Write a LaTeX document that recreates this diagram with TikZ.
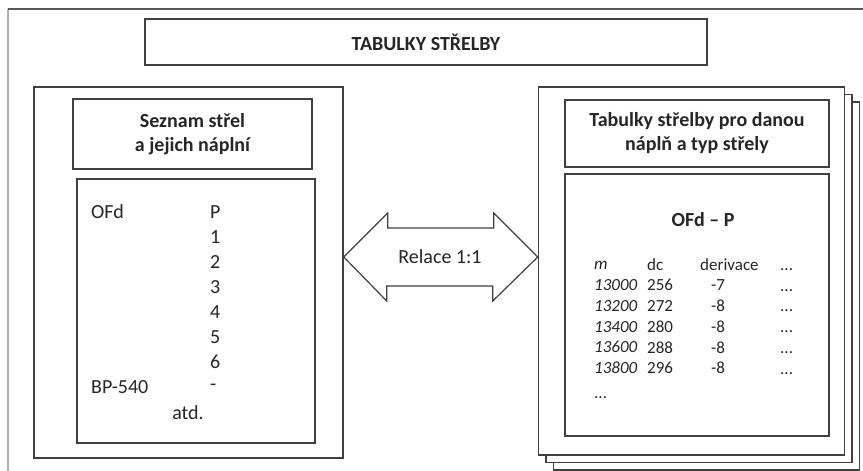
\documentclass[tikz,border=0pt]{standalone}
\usepackage{fontspec}
\setmainfont{Carlito}
\begin{document}
\begin{tikzpicture}[x=1pt, y=-1pt,
				    box/.style={draw=black!75, line width=1.5pt, fill=white,
				    			inner sep=0pt, text=black!85},
				    page/.style={box, minimum width=306pt, minimum height=368pt},
				    txt/.style={inner sep=0pt, text=black!85,
				    			font=\fontsize{20}{24}\selectfont},
				    tab/.style={inner sep=0pt, text=black!85, anchor=west,
				    			font=\fontsize{17}{20}\selectfont}]
	\useasboundingbox (0,0) rectangle (863,471);
	% outer frame
	\coordinate (fr) at (8,9);
	\draw[black!30, line width=2.5pt] (8,480) -- (fr);
	\draw[black!65, line width=1.5pt] (fr) -- (880,9);
	\node[box, minimum width=562pt, minimum height=46pt,
		  font=\fontsize{20}{24}\selectfont\bfseries] (title) at (426,42) {TABULKY STŘELBY};
	% left side
	\node[box, minimum width=309pt, minimum height=371pt] (leftpage) at (188.5,272.5) {};
	\node[box, minimum width=239pt, minimum height=70pt, align=center,
		  font=\fontsize{20}{24}\selectfont\bfseries] (lefthead) at (192.5,134)
		  {Seznam střel\\a jejich náplní};
	\node[box, minimum width=238pt, minimum height=264pt] (leftbody) at (196,311) {};
	\node[txt, anchor=west] (ofd) at (91,212) {OFd};
	\node[txt, anchor=west] (bp) at (91,387) {BP-540};
	\foreach \t [count=\i from 0] in {P,1,2,3,4,5,6,-}
		\node[txt, anchor=west] (n\i) at (210,212+25*\i) {\t};
	\node[txt] (atd) at (188,413) {atd.};
	% right side, stacked pages
	\node[page] (page3) at (706.5,286) {};
	\node[page] (page2) at (699,278.5) {};
	\node[page] (page1) at (691.5,271) {};
	\node[box, minimum width=264pt, minimum height=67pt, align=center,
		  font=\fontsize{20}{24}\selectfont\bfseries] (righthead) at (697,133.5)
		  {Tabulky střelby pro danou\\náplň a typ střely};
	\node[box, minimum width=264pt, minimum height=262pt] (rightbody) at (697,305) {};
	\node[txt, font=\fontsize{20}{24}\selectfont\bfseries] (tabname) at (703,220) {OFd – P};
	\node[tab] (hm) at (594,265) {\itshape m};
	\node[tab] (hdc) at (647,265) {dc};
	\node[tab] (hder) at (700,265) {derivace};
	\node[tab, anchor=base west] (hdots) at (780,270) {...};
	\foreach \m/\dc/\der [count=\i from 1] in
		{13000/256/-7, 13200/272/-8, 13400/280/-8, 13600/288/-8, 13800/296/-8}
	{
		\node[tab] (m\i) at (594,264.5+20.7*\i) {\itshape \m};
		\node[tab] (dc\i) at (647,264.5+20.7*\i) {\dc};
		\node[tab, anchor=center] (der\i) at (718,264.5+20.7*\i) {\der};
		\node[tab, anchor=base west] (dots\i) at (780,270.5+20.7*\i) {...};
	}
	\node[tab, anchor=base west] (more) at (594,398) {...};
	% relation arrow
	\coordinate (tl) at (leftpage.east |- 0,257);
	\coordinate (tr) at (page1.west |- 0,257);
	\draw[black!75, line width=1.2pt, fill=white]
		(tl) -- ++(44,-44) -- ++(0,15) -- ++(106,0) -- ++(0,-15) -- (tr)
		-- ++(-45,44) -- ++(0,-15) -- ++(-106,0) -- ++(0,15) -- cycle;
	\node[txt] (rel) at (440,257) {Relace 1:1};
\end{tikzpicture}
\end{document}
